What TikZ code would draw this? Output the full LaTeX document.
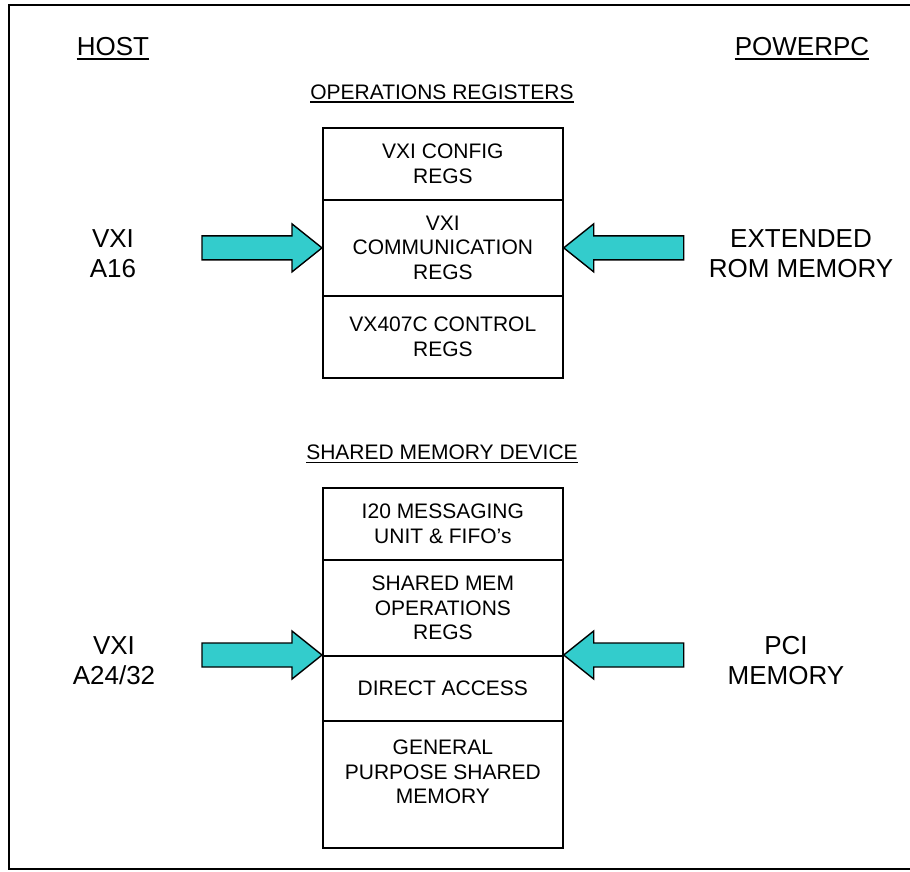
\documentclass[tikz,border=0pt]{standalone}
\usepackage{fontspec}
\setmainfont{Liberation Sans}
\definecolor{arrowfill}{HTML}{33CCCC}
\begin{document}
\begin{tikzpicture}[x=1pt,y=-1pt,
  cell/.style={draw,line width=1.7pt,minimum width=240pt,inner sep=0pt,anchor=north west},
  celltext/.style={align=center,font=\fontsize{21}{24.5}\selectfont,inner sep=0pt},
  sidelbl/.style={align=center,font=\fontsize{26}{30}\selectfont,inner sep=0pt},
  hdr/.style={font=\fontsize{26}{30}\selectfont,inner sep=0pt,anchor=base},
  ttl/.style={font=\fontsize{21}{25}\selectfont,inner sep=0pt,anchor=base},
  fatpoly/.style={fill=arrowfill,draw=black,line width=1.4pt,line join=miter},
  fatarrow/.pic={\path[fatpoly] (0,0) -- (-30,24) -- (-30,12) -- (-120,12) -- (-120,-12) -- (-30,-12) -- (-30,-24) -- cycle;}
]
\useasboundingbox (0,0) rectangle (910,871);
\fill[white] (0,0) rectangle (910,871);
% frame
\draw[line width=1.5pt] (915,5) -- (9,5) -- (9,869) -- (915,869);

% headers
\node[hdr] (host) at (113,55.5) {HOST};
\draw[line width=1.8pt] ([yshift=-3.5pt]host.base west) -- ([yshift=-3.5pt]host.base east);
\node[hdr] (ppc) at (802,55.5) {POWERPC};
\draw[line width=1.8pt] ([yshift=-3.5pt]ppc.base west) -- ([yshift=-3.5pt]ppc.base east);

\node[ttl] (opr) at (442,99) {OPERATIONS REGISTERS};
\draw[line width=1.3pt] ([yshift=-3pt]opr.base west) -- ([yshift=-3pt]opr.base east);
\node[ttl] (smd) at (442,459.5) {SHARED MEMORY DEVICE};
\draw[line width=1.3pt] ([yshift=-3pt]smd.base west) -- ([yshift=-3pt]smd.base east);

% upper box
\node[cell,minimum height=72pt] (u1) at (322,127) {};
\node[cell,minimum height=96pt] (u2) at (322,199) {};
\node[cell,minimum height=82pt] (u3) at (322,295) {};
\node[celltext] (u1t) at (u1.center) {VXI CONFIG\\REGS};
\node[celltext] (u2t) at (u2.center) {VXI\\COMMUNICATION\\REGS};
\node[celltext] (u3t) at (u3.center) {VX407C CONTROL\\REGS};

% lower box
\node[cell,minimum height=72pt] (l1) at (322,487) {};
\node[cell,minimum height=96pt] (l2) at (322,559) {};
\node[cell,minimum height=65pt] (l3) at (322,655) {};
\node[cell,minimum height=127pt] (l4) at (322,720) {};
\node[celltext] (l1t) at (l1.center) {I20 MESSAGING\\UNIT \& FIFO’s};
\node[celltext] (l2t) at (l2.center) {SHARED MEM\\OPERATIONS\\REGS};
\node[celltext] (l3t) at (l3.center) {DIRECT ACCESS};
\node[celltext] (l4t) at ([yshift=12.5pt]l4.center) {GENERAL\\PURPOSE SHARED\\MEMORY};

% arrows
\pic at (u2.west) {fatarrow};
\pic[rotate=180] at (u2.east) {fatarrow};
\pic at (l3.north west) {fatarrow};
\pic[rotate=180] at (l3.north east) {fatarrow};

% side labels
\node[sidelbl] (a16) at (113,254) {VXI\\A16};
\node[sidelbl] (erom) at (801,254) {EXTENDED\\ROM MEMORY};
\node[sidelbl] (a2432) at (114,661) {VXI\\A24/32};
\node[sidelbl] (pci) at (786,661) {PCI\\MEMORY};
\end{tikzpicture}
\end{document}
